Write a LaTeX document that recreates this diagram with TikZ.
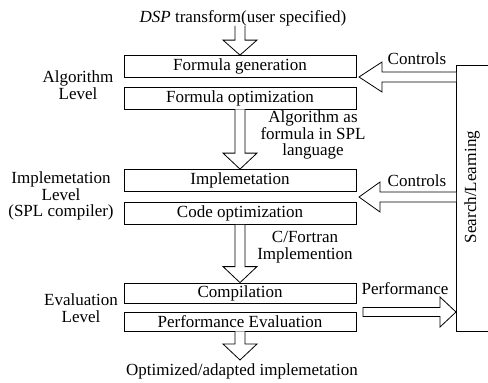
\documentclass[tikz,border=0pt]{standalone}
\usepackage{fontspec}
\setmainfont{Liberation Serif}
\usetikzlibrary{calc}
\tikzset{
  lbl/.style={font=\fontsize{17}{16.5}\selectfont, inner sep=0pt, align=center},
  stage/.style={draw, line width=0.8pt, minimum width=232pt, minimum height=22pt,
    inner sep=0pt, font=\fontsize{17}{16.5}\selectfont},
  blk/.style={draw, line width=0.8pt, fill=white, line join=miter},
}
% down block arrow: #1 shaft start, #2 tip, #3 head length
\newcommand\downblk[3]{%
  \draw[blk] ($(#1)+(-5,0)$) -- ($(#2)+(-5,-#3)$) -- ($(#2)+(-17,-#3)$) -- (#2)
    -- ($(#2)+(17,-#3)$) -- ($(#2)+(5,-#3)$) -- ($(#1)+(5,0)$);}
% left block arrow: #1 shaft end (right), #2 tip, #3 head length
\newcommand\leftblk[3]{%
  \draw[blk] ($(#1)+(0,-5)$) -- ($(#2)+(#3,-5)$) -- ($(#2)+(#3,-15)$) -- (#2)
    -- ($(#2)+(#3,15)$) -- ($(#2)+(#3,5)$) -- ($(#1)+(0,5)$);}
\begin{document}
\begin{tikzpicture}[x=1pt,y=-1pt]
\useasboundingbox (0,0) rectangle (488,383);

% stages
\node[stage] (fg) at (240,66.5) {Formula generation};
\node[stage] (fo) at (240,98) {Formula optimization};
\node[stage] (im) at (240,180.5) {Implemetation};
\node[stage] (co) at (240,213.5) {Code optimization};
\node[stage, minimum height=20pt] (cp) at (240,293) {Compilation};
\node[stage, minimum height=19pt] (pe) at (240,321.5) {Performance Evaluation};

% input / output text
\node[lbl, anchor=base] (dsp) at (243,22) {\textit{DSP} transform(user specified)};
\node[lbl, anchor=base] (out) at (242,375) {Optimized/adapted implemetation};

% level labels
\node[lbl] (alg) at (78,85) {Algorithm\\Level};
\node[lbl] (impl) at (61,196) {Implemetation\\Level\\(SPL compiler)};
\node[lbl] (eval) at (81,308) {Evaluation\\Level};

% arrow labels
\node[lbl] (a1) at (313,135) {Algorithm as\\formula in SPL\\language};
\node[lbl] (a2) at (305,247) {C/Fortran\\Implemention};
\node[lbl, anchor=base] (ctl1) at (417,64) {Controls};
\node[lbl, anchor=base] (ctl2) at (417,186) {Controls};
\node[lbl, anchor=base] (perf) at (405,294) {Performance};

% search / learning
\node[draw, line width=0.8pt, minimum width=44pt, minimum height=266pt, inner sep=0pt,
  anchor=north west] (sl) at (456,65) {};
\node[lbl, rotate=90] (slt) at (472,187) {Search/Learning};

% down block arrows
\downblk{fg.north |- dsp.south}{fg.north}{15}
\downblk{fo.south}{im.north}{16}
\downblk{co.south}{cp.north}{16}
\coordinate (otip) at (240,360);
\downblk{pe.south}{otip}{16}

% control arrows
\coordinate (t1) at (359,77);
\leftblk{sl.west |- t1}{t1}{23}
\coordinate (t2) at (359,197);
\leftblk{sl.west |- t2}{t2}{21}

% performance arrow
\coordinate (p0) at (363,312);
\coordinate (ptip) at (sl.west |- p0);
\draw[blk] ($(p0)+(0,-4.5)$) -- ($(ptip)+(-16,-4.5)$) -- ($(ptip)+(-16,-15)$) -- (ptip)
  -- ($(ptip)+(-16,15)$) -- ($(ptip)+(-16,4.5)$) -- ($(p0)+(0,4.5)$) -- cycle;
\end{tikzpicture}
\end{document}
